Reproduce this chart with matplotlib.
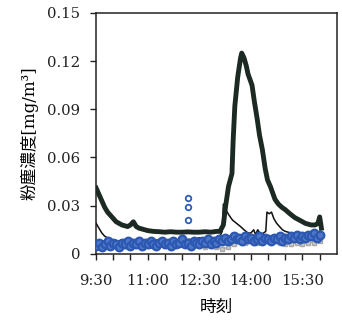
import matplotlib.pyplot as plt
import numpy as np

# thick black series (clock time, mg/m3)
thick_t = ["9:30", "9:35", "9:40", "9:45", "9:50", "9:55", "10:00", "10:05", "10:10", "10:15",
           "10:20", "10:25", "10:30", "10:35", "10:40", "10:45", "10:50", "10:55", "11:00", "11:10",
           "11:20", "11:30", "11:40", "11:50", "12:00", "12:10", "12:20", "12:30", "12:40", "12:50",
           "13:00", "13:06", "13:12", "13:16", "13:21", "13:27", "13:29", "13:32", "13:37", "13:42",
           "13:44", "13:48", "13:52", "13:55", "13:59", "14:02", "14:06", "14:11", "14:15", "14:20",
           "14:25", "14:29", "14:34", "14:38", "14:42", "14:48", "14:54", "15:00", "15:08", "15:17",
           "15:25", "15:35", "15:45", "15:52", "15:57", "16:00", "16:03"]
thick_v = [0.041, 0.037, 0.033, 0.029, 0.026, 0.024, 0.022, 0.020, 0.019, 0.018,
           0.0175, 0.017, 0.018, 0.020, 0.017, 0.016, 0.0155, 0.015, 0.0145, 0.014,
           0.0138, 0.0135, 0.0138, 0.0135, 0.0135, 0.0137, 0.0135, 0.0135, 0.0138, 0.0135,
           0.014, 0.014, 0.018, 0.030, 0.042, 0.050, 0.070, 0.092, 0.110, 0.122,
           0.125, 0.122, 0.117, 0.112, 0.108, 0.105, 0.095, 0.084, 0.074, 0.065,
           0.053, 0.046, 0.042, 0.038, 0.034, 0.031, 0.029, 0.0275, 0.025, 0.0225,
           0.021, 0.019, 0.018, 0.018, 0.019, 0.023, 0.016]

# thin black series
thin_t = ["9:30", "9:35", "9:40", "9:45", "9:50", "9:55", "10:00", "10:10", "10:20", "10:30",
          "10:40", "10:50", "11:00", "11:10", "11:20", "11:30", "11:40", "11:50", "12:00", "12:10",
          "12:20", "12:30", "12:40", "12:50", "13:00", "13:06", "13:10", "13:12", "13:14", "13:17",
          "13:22", "13:28", "13:35", "13:42", "13:48", "13:55", "14:00", "14:05", "14:08", "14:12",
          "14:17", "14:22", "14:26", "14:28", "14:32", "14:36", "14:40", "14:45", "14:50", "14:55",
          "15:00", "15:10", "15:20", "15:30", "15:40", "15:50", "16:00", "16:03"]
thin_v = [0.019, 0.016, 0.013, 0.011, 0.010, 0.009, 0.0085, 0.008, 0.009, 0.008,
          0.009, 0.008, 0.009, 0.008, 0.009, 0.008, 0.009, 0.009, 0.008, 0.009,
          0.009, 0.010, 0.009, 0.010, 0.010, 0.011, 0.014, 0.031, 0.020, 0.027,
          0.024, 0.021, 0.019, 0.017, 0.015, 0.013, 0.013, 0.015, 0.012, 0.015,
          0.012, 0.013, 0.014, 0.026, 0.025, 0.026, 0.022, 0.019, 0.017, 0.015,
          0.014, 0.013, 0.012, 0.012, 0.013, 0.013, 0.014, 0.013]

# gray series, every 10 min from 9:30
gray_v = [0.006, 0.005, 0.006, 0.005, 0.006, 0.005, 0.006, 0.005, 0.006, 0.005,
          0.006, 0.006, 0.005, 0.006, 0.007, 0.006, 0.005, 0.006, 0.005, 0.004,
          0.005, 0.004, 0.003, 0.004, 0.006, 0.008, 0.007, 0.008, 0.007, 0.008,
          0.009, 0.008, 0.007, 0.006, 0.006, 0.007, 0.006, 0.007, 0.007, 0.008]

# blue series, every 5 min from 9:30
blue_v = [0.005, 0.007, 0.004, 0.006, 0.008, 0.005, 0.007, 0.006, 0.004, 0.007, 0.006, 0.008, 0.005,
          0.007, 0.006, 0.008, 0.005, 0.007, 0.006, 0.008, 0.006, 0.005, 0.007, 0.008, 0.006,
          0.007, 0.005, 0.008, 0.006, 0.007, 0.009, 0.006, 0.007, 0.005, 0.008, 0.007, 0.006,
          0.008, 0.007, 0.009, 0.006, 0.008, 0.007, 0.009, 0.008, 0.010, 0.008, 0.009, 0.011,
          0.009, 0.010, 0.008, 0.011, 0.009, 0.010, 0.008, 0.009, 0.011, 0.008, 0.010, 0.009,
          0.008, 0.010, 0.009, 0.011, 0.008, 0.010, 0.009, 0.011, 0.010, 0.012, 0.009, 0.011,
          0.010, 0.012, 0.011, 0.013, 0.010, 0.012]
blue_spike_t = ["12:10", "12:10", "12:11"]
blue_spike_v = [0.035, 0.029, 0.021]

xtick_labels = ["9:30", "", "", "11:00", "", "", "12:30", "", "", "14:00", "", "", "15:30", ""]
ytick_labels = ["0", "0.03", "0.06", "0.09", "0.12", "0.15"]


def hours(stamps):
    out = []
    for s in stamps:
        h, m = s.split(":")
        out.append(int(h) + int(m) / 60)
    return np.array(out)


gray_t = 9.5 + np.arange(len(gray_v)) * 10 / 60
blue_t = 9.5 + np.arange(len(blue_v)) * 5 / 60

serif = "DejaVu Serif"
jp = ["DejaVu Serif", "Noto Sans CJK JP"]

fig = plt.figure(figsize=(3.42, 3.23), dpi=100)
ax = fig.add_axes([0.281, 0.214, 0.704, 0.746])

ax.plot(gray_t, gray_v, color="#b0b0b0", lw=1.0, marker="s", ms=2.5, mec="#a8a8a8", mfc="#c8c8c8", zorder=2)
ax.plot(hours(thin_t), thin_v, color="#111111", lw=1.1, zorder=3)
ax.plot(blue_t, blue_v, ls="none", marker="o", ms=5.5, mfc="#4f77c8", mec="#2c58b2", mew=1.6, zorder=4)
ax.plot(hours(blue_spike_t), blue_spike_v, ls="none", marker="o", ms=4, mfc="white", mec="#2f5db6", mew=1.3, zorder=4)
ax.plot(hours(thick_t), thick_v, color="#1c2a23", lw=3.5, solid_joinstyle="round", zorder=5)

ax.set_xticks(9.5 + 0.5 * np.arange(len(xtick_labels)))
ax.set_xticklabels(xtick_labels, family=serif, fontsize=10.7)
ax.set_xlim(9.5, 16.5)
ax.set_ylim(0, 0.15)
ax.set_yticks([0, 0.03, 0.06, 0.09, 0.12, 0.15])
ax.set_yticklabels(ytick_labels, family=serif, fontsize=10.7)
ax.tick_params(direction="out", length=4.5, width=1, colors="#222222")
ax.tick_params(axis="x", pad=10)
ax.tick_params(axis="y", pad=7)

for sp in ax.spines.values():
    sp.set_linewidth(1.1)
    sp.set_color("#222222")

ax.set_ylabel("粉塵濃度[mg/m³]", family=jp, fontsize=12, labelpad=6)
ax.set_xlabel("時刻", family=jp, fontsize=12, labelpad=8)

fig.savefig("out.png", dpi=100)
